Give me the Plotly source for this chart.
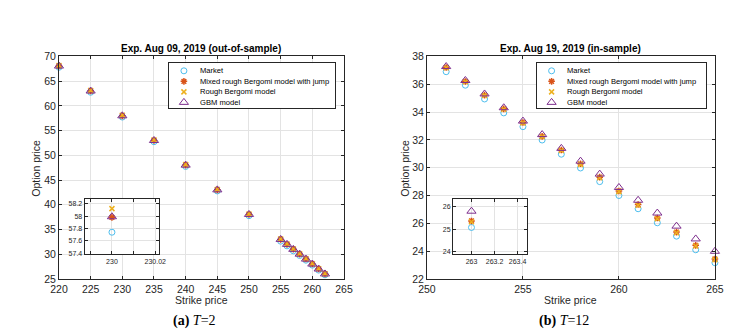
import plotly.graph_objects as go

# data
series_names = ["Market", "Mixed rough Bergomi model with jump", "Rough Bergomi model", "GBM model"]

strike_a = [220, 225, 230, 235, 240, 245, 250, 255, 256, 257, 258, 259, 260, 261, 262]
market_a = [67.8, 62.75, 57.74, 52.75, 47.75, 42.8, 37.8, 32.65, 31.7, 30.7, 29.75, 28.8, 27.8, 26.8, 25.85]
mixed_a = [68.05, 63.0, 57.98, 53.0, 48.03, 43.02, 38.05, 33.0, 32.0, 31.02, 30.02, 29.03, 28.03, 27.03, 26.03]
rough_a = [68.15, 63.1, 58.12, 53.1, 48.12, 43.1, 38.12, 33.08, 32.08, 31.08, 30.08, 29.08, 28.08, 27.08, 26.06]
gbm_a = [68.05, 63.0, 57.99, 53.0, 48.02, 43.02, 38.05, 33.0, 32.0, 31.0, 30.02, 29.02, 28.02, 27.02, 26.02]

strike_b = [251, 252, 253, 254, 255, 256, 257, 258, 259, 260, 261, 262, 263, 264, 265]
market_b = [36.9, 35.93, 34.94, 33.94, 32.95, 31.99, 30.97, 29.98, 29.0, 28.0, 27.05, 26.04, 25.08, 24.1, 23.17]
mixed_b = [37.2, 36.2, 35.22, 34.23, 33.25, 32.25, 31.27, 30.28, 29.32, 28.33, 27.35, 26.38, 25.37, 24.42, 23.44]
rough_b = [37.18, 36.18, 35.2, 34.2, 33.22, 32.22, 31.23, 30.24, 29.28, 28.28, 27.3, 26.33, 25.33, 24.37, 23.38]
gbm_b = [37.27, 36.27, 35.3, 34.31, 33.35, 32.38, 31.39, 30.47, 29.54, 28.58, 27.66, 26.74, 25.8, 24.88, 23.99]

titles = ["Exp. Aug 09, 2019 (out-of-sample)", "Exp. Aug 19, 2019 (in-sample)"]
captions = ["<b>(a)</b> <i>T</i>=2", "<b>(b)</b> <i>T</i>=12"]

SANS = "Liberation Sans, Arial, sans-serif"
SERIF = "Liberation Serif, Times New Roman, serif"
INK = "#262626"

# matlab style markers
styles = [
    dict(symbol="circle-open", size=6, color="#4DBEEE", line=dict(width=1, color="#4DBEEE")),
    dict(symbol="asterisk-open", size=5.5, color="#D95319", line=dict(width=1.5, color="#D95319")),
    dict(symbol="x-thin-open", size=5, color="#EDB120", line=dict(width=1.5, color="#EDB120")),
    dict(symbol="triangle-up-open", size=8, color="#7E2F8E", line=dict(width=1, color="#7E2F8E")),
]

fig = go.Figure()


def add_set(x, ys, xa, ya, clip):
    for name, y, st in zip(series_names, ys, styles):
        fig.add_trace(go.Scatter(x=x, y=y, mode="markers", name=name, marker=st,
                                 xaxis=xa, yaxis=ya, cliponaxis=clip, showlegend=False))


add_set(strike_a, [market_a, mixed_a, rough_a, gbm_a], "x", "y", False)
add_set(strike_b, [market_b, mixed_b, rough_b, gbm_b], "x2", "y2", False)
# insets
add_set(strike_a, [market_a, mixed_a, rough_a, gbm_a], "x3", "y3", True)
add_set(strike_b, [market_b, mixed_b, rough_b, gbm_b], "x4", "y4", True)

# hand made legends (plotly's own legend rows are too tall)
rows = list(range(len(series_names)))
for xa, ya in [("x5", "y5"), ("x6", "y6")]:
    for i, st in enumerate(styles):
        fig.add_trace(go.Scatter(x=[15], y=[rows[i]], mode="markers", marker=st,
                                 xaxis=xa, yaxis=ya, showlegend=False, hoverinfo="skip"))

W, H = 753, 330


def px(x0, x1):
    return [x0 / W, x1 / W]


def py(top, bottom):
    return [1 - bottom / H, 1 - top / H]


def ax(domain, rng, anchor, fs=10.5, **kw):
    d = dict(domain=domain, range=rng, anchor=anchor, showline=True, linecolor=INK, linewidth=1,
             mirror="ticks", ticks="inside", ticklen=3, tickcolor=INK, showgrid=True,
             gridcolor="#e3e3e3", gridwidth=1, zeroline=False,
             tickfont=dict(family=SANS, size=fs, color=INK))
    d.update(kw)
    return d


leg = dict(showline=True, linecolor=INK, linewidth=1, mirror=True, ticks="", showticklabels=False,
           showgrid=False, zeroline=False, fixedrange=True)

fig.update_layout(
    width=W, height=H, margin=dict(l=0, r=0, t=0, b=0),
    paper_bgcolor="white", plot_bgcolor="white", showlegend=False,
    xaxis=ax(px(43, 335), [220, 265], "y", dtick=5),
    yaxis=ax(py(44, 275), [25, 70], "x", dtick=5),
    xaxis2=ax(px(420, 715), [250, 265], "y2", dtick=5),
    yaxis2=ax(py(44, 275), [22, 38], "x2", dtick=2),
    xaxis3=ax(px(69.3, 145), [229.9874, 230.0215], "y3", fs=7,
              tickvals=[229.99, 230, 230.01, 230.02], ticktext=["", "230", "", "230.02"]),
    yaxis3=ax(py(191.7, 249.3), [57.385, 58.28], "x3", fs=7,
              tickvals=[57.4, 57.6, 57.8, 58, 58.2], ticktext=["57.4", "57.6", "57.8", "58", "58.2"]),
    xaxis4=ax(px(446.7, 522.3), [262.84, 263.48], "y4", fs=7,
              tickvals=[263, 263.2, 263.4], ticktext=["263", "263.2", "263.4"]),
    yaxis4=ax(py(191.7, 249.3), [23.9, 26.35], "x4", fs=7, tickvals=[24, 25, 26]),
    xaxis5=dict(leg, domain=px(156, 326), range=[0, 170], anchor="y5"),
    yaxis5=dict(leg, domain=py(51, 97.7), range=[3.55, -0.73], anchor="x5"),
    xaxis6=dict(leg, domain=px(532.7, 705.7), range=[0, 173], anchor="y6"),
    yaxis6=dict(leg, domain=py(51, 97.7), range=[3.55, -0.73], anchor="x6"),
)

ann = []
for xa, ya in [("x5", "y5"), ("x6", "y6")]:
    for i, name in enumerate(series_names):
        ann.append(dict(x=29, y=rows[i], xref=xa, yref=ya, text=name, showarrow=False,
                        xanchor="left", yanchor="middle", font=dict(family=SANS, size=7.6, color="black")))

for cx, cap_x, ylab_x, title, cap in [(189, 182, 20, titles[0], captions[0]),
                                       (567, 560, 398, titles[1], captions[1])]:
    ann.append(dict(x=cx / W, y=1 - 36 / H, xref="paper", yref="paper", text="<b>" + title + "</b>",
                    showarrow=False, xanchor="center", yanchor="middle",
                    font=dict(family=SANS, size=10, color="black")))
    ann.append(dict(x=cx / W, y=1 - 297 / H, xref="paper", yref="paper", text="Strike price",
                    showarrow=False, xanchor="center", yanchor="middle",
                    font=dict(family=SANS, size=10.5, color=INK)))
    ann.append(dict(x=ylab_x / W, y=1 - 160 / H, xref="paper", yref="paper", text="Option price",
                    showarrow=False, xanchor="center", yanchor="middle", textangle=-90,
                    font=dict(family=SANS, size=10.5, color=INK)))
    ann.append(dict(x=cap_x / W, y=1 - 319 / H, xref="paper", yref="paper", text=cap,
                    showarrow=False, xanchor="center", yanchor="middle",
                    font=dict(family=SERIF, size=14, color="black")))

fig.update_layout(annotations=ann)

fig.write_html("out.html")
